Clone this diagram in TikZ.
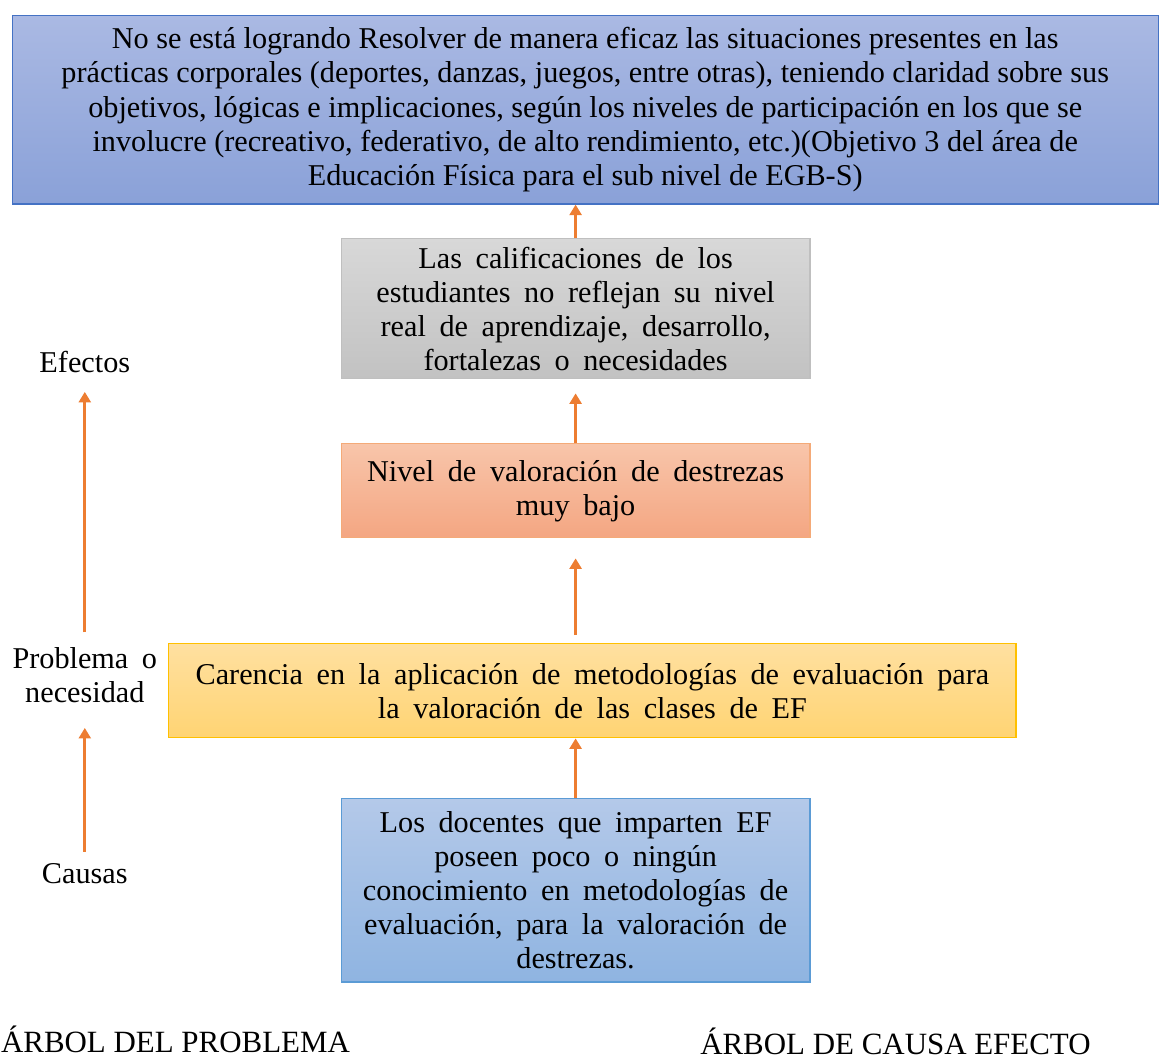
\documentclass[tikz,border=0pt]{standalone}
\usepackage{fontspec}
\setmainfont{Liberation Serif}
\usepackage{tikz}
\usetikzlibrary{arrows.meta, positioning, calc}
\definecolor{myorange}{RGB}{237,125,49}
\definecolor{myblue}{RGB}{68,114,196}
\definecolor{mysky}{RGB}{91,155,213}
\definecolor{mygray}{RGB}{191,191,191}
\definecolor{mysalmon}{RGB}{244,170,120}
\definecolor{myyellow}{RGB}{255,192,0}
\definecolor{topblue}{RGB}{170,185,227}
\definecolor{botblue}{RGB}{138,161,216}
\definecolor{topgray}{RGB}{216,216,216}
\definecolor{botgray}{RGB}{194,194,194}
\definecolor{topsalmon}{RGB}{248,197,170}
\definecolor{botsalmon}{RGB}{244,166,130}
\definecolor{topyellow}{RGB}{255,224,160}
\definecolor{botyellow}{RGB}{255,212,115}
\definecolor{topsky}{RGB}{180,201,233}
\definecolor{botsky}{RGB}{143,180,225}
\newcommand{\boxfont}{\fontsize{21.5}{24.2}\selectfont\spaceskip=0.45em\relax}
\newcommand{\titlefont}{\fontsize{21.5}{24.4}\selectfont}
\newcommand{\capfont}{\fontsize{22}{24}\selectfont}
\tikzset{
  box/.style={rectangle, align=center, inner sep=2pt,
    font=\boxfont, line width=0.8pt},
  label/.style={align=center, inner sep=2pt, font=\boxfont},
  caption/.style={inner sep=0pt, font=\capfont},
  arrow/.style={-{Triangle[width=8.5pt,length=7.5pt]}, line width=1.9pt, color=myorange}
}
\begin{document}
\begin{tikzpicture}
  \useasboundingbox (0,0) rectangle (29,-26.475);
  % Objective and effects
  \node[box, draw=myblue, top color=topblue, bottom color=botblue, font=\titlefont,
    minimum width=28.65cm, minimum height=4.72cm] (objetivo) at (14.63,-2.74)
    {No se está logrando Resolver de manera eficaz las situaciones presentes en las\\
     prácticas corporales (deportes, danzas, juegos, entre otras), teniendo claridad sobre sus\\
     objetivos, lógicas e implicaciones, según los niveles de participación en los que se\\
     involucre (recreativo, federativo, de alto rendimiento, etc.)(Objetivo 3 del área de\\
     Educación Física para el sub nivel de EGB-S)};
  \node[box, draw=mygray, top color=topgray, bottom color=botgray,
    minimum width=11.72cm, minimum height=3.5cm] (efecto) at (14.39,-7.72)
    {Las calificaciones de los\\estudiantes no reflejan su nivel\\real de aprendizaje, desarrollo,\\fortalezas o necesidades};
  \node[box, draw=mysalmon, top color=topsalmon, bottom color=botsalmon,
    minimum width=11.72cm, minimum height=2.35cm] (nivel) at (14.39,-12.27)
    {Nivel de valoración de destrezas\\muy bajo};

  % Problem and cause
  \node[box, draw=myyellow, top color=topyellow, bottom color=botyellow,
    minimum width=21.18cm, minimum height=2.35cm] (problema) at (14.81,-17.27)
    {Carencia en la aplicación de metodologías de evaluación para\\la valoración de las clases de EF};
  \node[box, draw=mysky, top color=topsky, bottom color=botsky,
    minimum width=11.72cm, minimum height=4.58cm] (causa) at (14.39,-22.26)
    {Los docentes que imparten EF\\poseen poco o ningún\\conocimiento en metodologías de\\evaluación, para la valoración de\\destrezas.};

  % Side labels
  \node[label] (efectos) at (2.12,-9.05) {Efectos};
  \node[label] (necesidad) at (2.12,-16.88) {Problema o\\necesidad};
  \node[label] (causas) at (2.12,-21.83) {Causas};

  % Titles
  \node[caption, anchor=base west] (arbolp) at (0.02,-26.3) {ÁRBOL DEL PROBLEMA};
  \node[caption, anchor=base west] (arbolc) at (17.5,-26.35) {ÁRBOL DE CAUSA EFECTO};

  % Tree arrows
  \draw[arrow] (efecto.north) -- (efecto.north |- objetivo.south);
  \draw[arrow, shorten >=0.35cm] (nivel.north) -- (efecto.south);
  \draw[arrow, shorten <=0.2cm, shorten >=0.5cm] (problema.north -| nivel.south) -- (nivel.south);
  \draw[arrow] (causa.north) -- (causa.north |- problema.south);

  % Side arrows
  \draw[arrow, shorten <=0.3cm, shorten >=0.4cm] (necesidad) -- (efectos);
  \draw[arrow, shorten <=0.2cm, shorten >=0.55cm] (causas) -- (necesidad);
\end{tikzpicture}
\end{document}
